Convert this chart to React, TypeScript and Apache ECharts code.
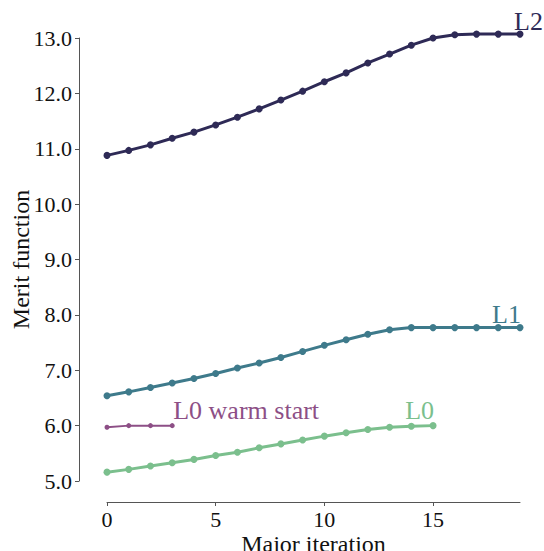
import React, { useEffect, useRef } from "react";
import * as echarts from "echarts";

const iterations = [0, 1, 2, 3, 4, 5, 6, 7, 8, 9, 10, 11, 12, 13, 14, 15, 16, 17, 18, 19];
const l2Values = [10.88, 10.97, 11.07, 11.19, 11.30, 11.43, 11.57, 11.72, 11.88, 12.04, 12.21, 12.37, 12.55, 12.71, 12.87, 13.0, 13.06, 13.07, 13.07, 13.07];
const l1Values = [6.54, 6.61, 6.69, 6.77, 6.85, 6.94, 7.04, 7.13, 7.23, 7.34, 7.45, 7.55, 7.65, 7.73, 7.77, 7.77, 7.77, 7.77, 7.77, 7.77];
const l0Values = [5.16, 5.21, 5.27, 5.33, 5.39, 5.46, 5.52, 5.6, 5.67, 5.74, 5.81, 5.87, 5.93, 5.97, 5.99, 6.0];
const l0WarmValues = [5.97, 6.0, 6.0, 6.0];
const xTicks = [0, 5, 10, 15];

const FONT = '"Liberation Serif", "Times New Roman", serif';

function makeSeries(
  name: string,
  values: number[],
  color: string,
  width: number,
  symbolSize: number,
  label: any
) {
  const last = values.length - 1;
  return {
    name,
    type: "line",
    clip: false,
    symbol: "circle",
    symbolSize,
    showSymbol: true,
    lineStyle: { color, width },
    itemStyle: { color },
    data: values.map((v, i) =>
      i === last
        ? {
            value: [iterations[i], v],
            label: {
              show: true,
              formatter: name,
              position: "inside",
              color,
              fontFamily: FONT,
              fontSize: 26,
              ...label,
            },
          }
        : [iterations[i], v]
    ),
  };
}

export default function App() {
  const ref = useRef<HTMLDivElement>(null);
  useEffect(() => {
    if (!ref.current) return;
    const chart = echarts.init(ref.current, null, { renderer: "svg" });
    chart.setOption({
      animation: false,
      backgroundColor: "#ffffff",
      textStyle: { fontFamily: FONT },
      grid: { left: 107, right: 24, top: 38, bottom: 70, containLabel: false, outerBoundsMode: "none" },
      xAxis: {
        type: "value",
        min: 0,
        max: 19,
        interval: 5,
        offset: 21,
        name: "Major iteration",
        nameLocation: "middle",
        nameGap: 30,
        nameMoveOverlap: false,
        nameTextStyle: { fontFamily: FONT, fontSize: 24, color: "#111" },
        axisLine: { show: true, onZero: false, lineStyle: { color: "#555", width: 1 } },
        axisTick: { show: true, length: 4, customValues: xTicks, lineStyle: { color: "#555" } },
        axisLabel: {
          customValues: xTicks,
          margin: 6,
          fontFamily: FONT,
          fontSize: 22,
          color: "#111",
        },
        splitLine: { show: false },
      },
      yAxis: {
        type: "value",
        min: 5,
        max: 13,
        interval: 1,
        offset: 28,
        name: "Merit function",
        nameLocation: "middle",
        nameGap: 46,
        nameMoveOverlap: false,
        nameRotate: 90,
        nameTextStyle: { fontFamily: FONT, fontSize: 24, color: "#111" },
        axisLine: { show: true, onZero: false, lineStyle: { color: "#555", width: 1 } },
        axisTick: { show: true, length: 4, lineStyle: { color: "#555" } },
        axisLabel: {
          margin: 7,
          fontFamily: FONT,
          fontSize: 22,
          color: "#111",
          formatter: (v: number) => v.toFixed(1),
        },
        splitLine: { show: false },
      },
      series: [
        makeSeries("L2", l2Values, "#2e2a56", 3, 7, { align: "left", verticalAlign: "bottom", offset: [-6, 0] }),
        makeSeries("L1", l1Values, "#3e7a8b", 3, 7, { align: "right", verticalAlign: "bottom", offset: [1, 0] }),
        makeSeries("L0", l0Values, "#7bbf8d", 3, 7, { align: "right", verticalAlign: "bottom", offset: [1, -2] }),
        makeSeries("L0 warm start", l0WarmValues, "#8d4f86", 2, 5, { align: "left", verticalAlign: "bottom", offset: [1, -2] }),
      ],
    });
    return () => chart.dispose();
  }, []);
  return <div ref={ref} style={{ width: 544, height: 551, position: "absolute", left: 0, top: 0 }} />;
}
